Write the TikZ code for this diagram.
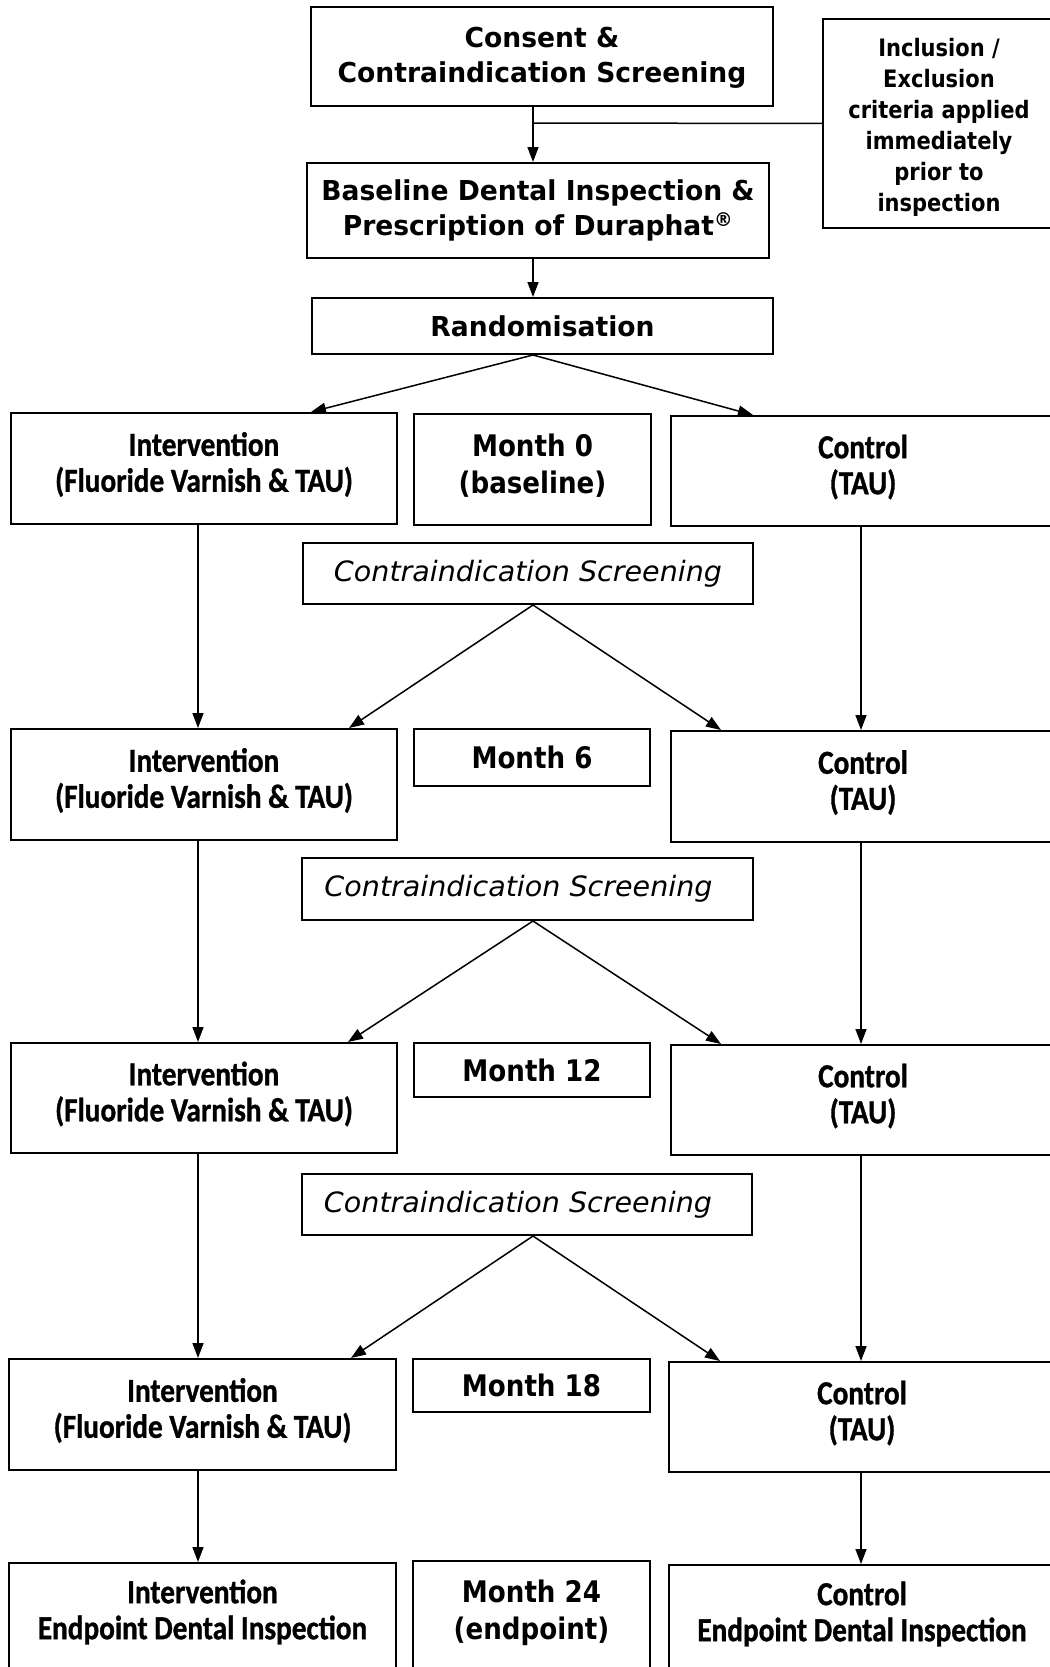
\documentclass[tikz,border=0pt]{standalone}
\usepackage{fontspec}
\usetikzlibrary{arrows.meta}
\setmainfont{DejaVu Sans}
\newfontfamily\headfont{DejaVu Sans}[FakeStretch=0.97]
\newfontfamily\monthfont{DejaVu Sans}[FakeStretch=0.88]
\newfontfamily\notefont{DejaVu Sans}[FakeStretch=0.875]
\newfontfamily\screenfont{DejaVu Sans Oblique}[FakeStretch=1.02]
\newfontfamily\armfont{Carlito}[FakeStretch=0.87, BoldFeatures={FakeBold=1.0}]

\tikzset{
  frame/.style={draw=black, line width=2pt, inner sep=0pt, fill=none},
  txt/.style={inner sep=0pt, align=center, text=black},
  headtxt/.style={txt, font=\headfont\bfseries\fontsize{27.4}{35}\selectfont},
  notetxt/.style={txt, font=\notefont\bfseries\fontsize{24}{31}\selectfont},
  monthtxt/.style={txt, font=\monthfont\bfseries\fontsize{29.7}{36.5}\selectfont},
  armtxt/.style={txt, font=\armfont\bfseries\fontsize{33.6}{36}\selectfont},
  screentxt/.style={txt, font=\screenfont\fontsize{28}{32}\selectfont},
  link/.style={draw=black, line width=1.5pt},
  arr/.style={link, -{Triangle[length=15pt,width=11pt]}},
}

\begin{document}
\begin{tikzpicture}[x=1pt, y=-1pt]
  \useasboundingbox (0,0) rectangle (1049,1667);
  \fill[white] (0,0) rectangle (1049,1667);

  % --- enrolment ---
  \node[frame, minimum width=462pt, minimum height=99pt] (consent) at (542,56.5) {};
  \node[frame, minimum width=232pt, minimum height=209pt] (incl) at (939,123.5) {};
  \node[frame, minimum width=462pt, minimum height=95pt] (baseline) at (538,210.5) {};
  \node[frame, minimum width=461pt, minimum height=56pt] (rand) at (542.5,326) {};

  \node[headtxt, yshift=-1pt] (consent-t) at (consent.center) {Consent \&\\Contraindication Screening};
  \node[notetxt, yshift=-4pt] (incl-t) at (incl.center) {Inclusion /\\Exclusion\\criteria applied\\immediately\\prior to\\inspection};
  \node[headtxt] (baseline-t) at (baseline.center) {Baseline Dental Inspection \&\\Prescription of Duraphat\textsuperscript{®}};
  \node[headtxt] (rand-t) at (rand.center) {Randomisation};

  % --- month 0 ---
  \node[frame, minimum width=386pt, minimum height=111pt] (int1) at (204,468.5) {};
  \node[frame, minimum width=237pt, minimum height=111pt] (mon0) at (532.5,469.5) {};
  \node[frame, minimum width=384pt, minimum height=110pt] (ctl1) at (863,471) {};
  \node[armtxt, yshift=4pt] (int1-t) at (int1.center) {Intervention\\(Fluoride Varnish \& TAU)};
  \node[monthtxt, yshift=4pt] (mon0-t) at (mon0.center) {Month 0\\(baseline)};
  \node[armtxt, yshift=4pt] (ctl1-t) at (ctl1.center) {Control\\(TAU)};

  \node[frame, minimum width=450pt, minimum height=61pt] (cs1) at (528,573.5) {};
  \node[screentxt] (cs1-t) at (cs1.center) {Contraindication Screening};

  % --- month 6 ---
  \node[frame, minimum width=386pt, minimum height=111pt] (int2) at (204,784.5) {};
  \node[frame, minimum width=236pt, minimum height=57pt] (mon6) at (532,757.5) {};
  \node[frame, minimum width=384pt, minimum height=111pt] (ctl2) at (863,786.5) {};
  \node[armtxt, yshift=4pt] (int2-t) at (int2.center) {Intervention\\(Fluoride Varnish \& TAU)};
  \node[monthtxt] (mon6-t) at (mon6.center) {Month 6};
  \node[armtxt, yshift=4pt] (ctl2-t) at (ctl2.center) {Control\\(TAU)};

  \node[frame, minimum width=451pt, minimum height=62pt] (cs2) at (527.5,889) {};
  \node[screentxt, xshift=-9pt] (cs2-t) at (cs2.center) {Contraindication Screening};

  % --- month 12 ---
  \node[frame, minimum width=386pt, minimum height=110pt] (int3) at (204,1098) {};
  \node[frame, minimum width=236pt, minimum height=54pt] (mon12) at (532,1070) {};
  \node[frame, minimum width=384pt, minimum height=110pt] (ctl3) at (863,1100) {};
  \node[armtxt, yshift=4pt] (int3-t) at (int3.center) {Intervention\\(Fluoride Varnish \& TAU)};
  \node[monthtxt] (mon12-t) at (mon12.center) {Month 12};
  \node[armtxt, yshift=4pt] (ctl3-t) at (ctl3.center) {Control\\(TAU)};

  \node[frame, minimum width=450pt, minimum height=61pt] (cs3) at (527,1204.5) {};
  \node[screentxt, xshift=-9pt] (cs3-t) at (cs3.center) {Contraindication Screening};

  % --- month 18 ---
  \node[frame, minimum width=387pt, minimum height=111pt] (int4) at (202.5,1414.5) {};
  \node[frame, minimum width=237pt, minimum height=53pt] (mon18) at (531.5,1385.5) {};
  \node[frame, minimum width=386pt, minimum height=110pt] (ctl4) at (862,1417) {};
  \node[armtxt, yshift=4pt] (int4-t) at (int4.center) {Intervention\\(Fluoride Varnish \& TAU)};
  \node[monthtxt] (mon18-t) at (mon18.center) {Month 18};
  \node[armtxt, yshift=4pt] (ctl4-t) at (ctl4.center) {Control\\(TAU)};

  % --- month 24 ---
  \node[frame, minimum width=387pt, minimum height=127pt] (int5) at (202.5,1626.5) {};
  \node[frame, minimum width=237pt, minimum height=129pt] (mon24) at (531.5,1625.5) {};
  \node[frame, minimum width=386pt, minimum height=125pt] (ctl5) at (862,1627.5) {};
  \node[armtxt] (int5-t) at (202.5,1612) {Intervention\\Endpoint Dental Inspection};
  \node[monthtxt] (mon24-t) at (531.5,1613) {Month 24\\(endpoint)};
  \node[armtxt] (ctl5-t) at (862,1614) {Control\\Endpoint Dental Inspection};

  % --- connectors ---
  \coordinate (jn) at (533,123);
  \coordinate (lx) at (198,0);
  \coordinate (rx) at (861,0);

  \draw[link] (consent.south -| jn) -- (jn);
  \draw[link] (incl.west) -- (jn);
  \draw[arr] (jn) -- (baseline.north -| jn);
  \draw[arr] (baseline.south -| jn) -- (rand.north -| jn);

  \coordinate (ra) at (rand.south -| jn);
  \draw[arr] (ra) -- ([xshift=301pt]int1.north west);
  \draw[arr] (ra) -- ([xshift=83pt]ctl1.north west);

  \coordinate (c1) at (cs1.south -| jn);
  \draw[arr] (c1) -- ([xshift=339pt]int2.north west);
  \draw[arr] (c1) -- ([xshift=51pt]ctl2.north west);

  \coordinate (c2) at (cs2.south -| jn);
  \draw[arr] (c2) -- ([xshift=338pt]int3.north west);
  \draw[arr] (c2) -- ([xshift=51pt]ctl3.north west);

  \coordinate (c3) at (cs3.south -| jn);
  \draw[arr] (c3) -- ([xshift=343pt]int4.north west);
  \draw[arr] (c3) -- ([xshift=52pt]ctl4.north west);

  \draw[arr] (int1.south -| lx) -- (int2.north -| lx);
  \draw[arr] (int2.south -| lx) -- (int3.north -| lx);
  \draw[arr] (int3.south -| lx) -- (int4.north -| lx);
  \draw[arr] (int4.south -| lx) -- (int5.north -| lx);

  \draw[arr] (ctl1.south -| rx) -- (ctl2.north -| rx);
  \draw[arr] (ctl2.south -| rx) -- (ctl3.north -| rx);
  \draw[arr] (ctl3.south -| rx) -- (ctl4.north -| rx);
  \draw[arr] (ctl4.south -| rx) -- (ctl5.north -| rx);
\end{tikzpicture}
\end{document}
